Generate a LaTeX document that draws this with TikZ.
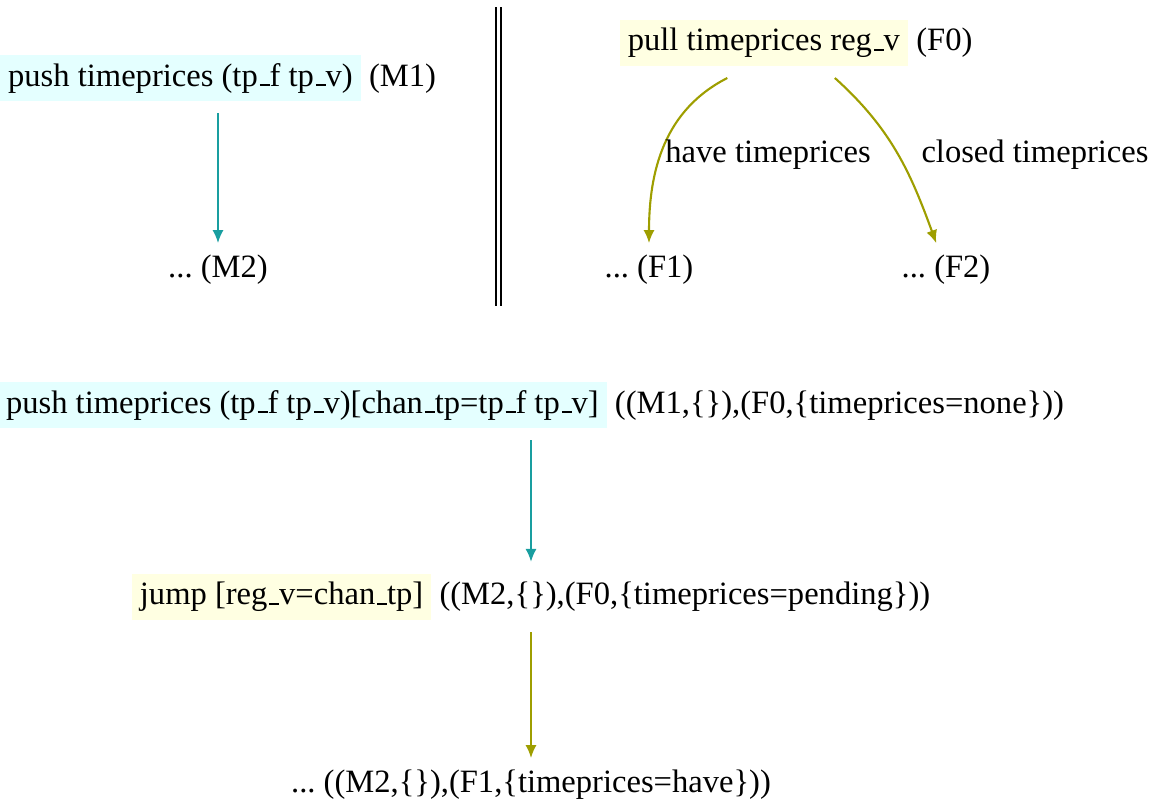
\documentclass[tikz,border=0pt]{standalone}
\usepackage{fontspec}
\setmainfont{Liberation Serif}
\usetikzlibrary{arrows.meta}

\definecolor{mbg}{RGB}{228,255,255}
\definecolor{fbg}{RGB}{255,255,226}
\definecolor{mline}{RGB}{25,158,160}
\definecolor{fline}{RGB}{158,158,0}

\setlength\fboxsep{2.5pt}
\newcommand\usc{\leavevmode\kern.06em\vbox{\hrule width.3em height .5pt}}
\newcommand\mtrans[1]{\colorbox{mbg}{#1}}
\newcommand\ftrans[1]{\colorbox{fbg}{#1}}

\begin{document}
\begin{tikzpicture}[x=0.307pt,y=-0.307pt,
	every node/.style={inner sep=3.5pt},
	marr/.style={mline,line width=0.65pt,-{Latex[length=4pt,width=3.4pt]}},
	farr/.style={fline,line width=0.65pt,-{Latex[length=4pt,width=3.4pt]}}]

% frame %{{{2

	\useasboundingbox (0,0) rectangle (1159,807);

% single machines %{{{2

	% ---- left: M

	\node (m1) at (218,78) {\mtrans{push timeprices (tp\usc f tp\usc v)} (M1)};
	\node (m2) at (218,270) {...\ (M2)};

	\draw[marr] (m1) -- (m2);

	% ---- right: F

	\node (f0) at (796,43) {\ftrans{pull timeprices reg\usc v} (F0)};
	\node (f1) at (649,270) {...\ (F1)};
	\node (f2) at (946,270) {...\ (F2)};

	\draw[farr] (f0) to[out=207,in=90] (f1);
	\draw[farr] (f0) to[out=-42,in=110] (f2);

	\node (lhave) at (768,155) {have timeprices};
	\node (lclosed) at (1035,155) {closed timeprices};

	% ---- separator

	\draw[line width=0.4pt] (496,7) -- (496,306);
	\draw[line width=0.4pt] (501,7) -- (501,306);

% product %{{{2

	\node (s0) at (531,405) {\mtrans{push timeprices (tp\usc f tp\usc v)[chan\usc tp=tp\usc f tp\usc v]} ((M1,\{\}),(F0,\{timeprices=none\}))};
	\node (s1) at (531,597) {\ftrans{jump [reg\usc v=chan\usc tp]} ((M2,\{\}),(F0,\{timeprices=pending\}))};
	\node (s2) at (531,785) {...\ ((M2,\{\}),(F1,\{timeprices=have\}))};

	\draw[marr] (s0) -- (s1);
	\draw[farr] (s1) -- (s2);

% closing %{{{2

\end{tikzpicture}
\end{document}
